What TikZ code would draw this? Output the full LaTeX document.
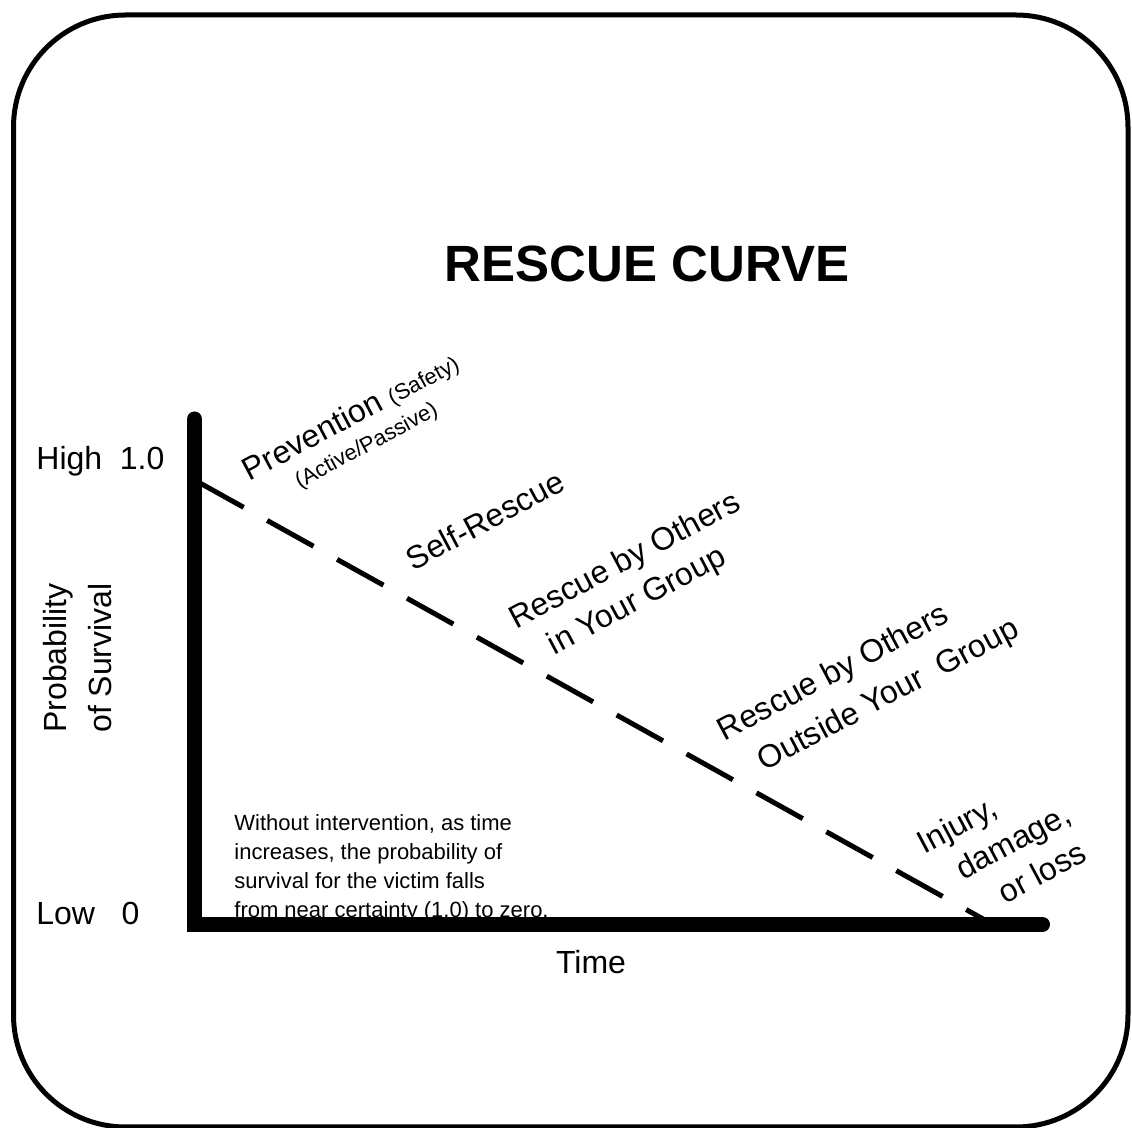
\documentclass[tikz,border=0pt]{standalone}
\usepackage{fontspec}
\setmainfont{Liberation Sans}

\begin{document}
\begin{tikzpicture}[x=0.5pt,y=-0.5pt,join=round, % rescue curve
        frame/.style={line width=2.5pt,rounded corners=56pt},
        axis/.style={line width=7.5pt,line cap=round,line join=miter},
        curve/.style={line width=2.5pt,dash pattern=on 26.5pt off 13.5pt,dash phase=38.4pt},
        lbl/.style={font=\fontsize{16}{21.5}\selectfont,inner sep=0pt},
        slant/.style={lbl,rotate=28}]
        \useasboundingbox (0,0) rectangle (1132,1128);
        \draw[frame] (13.5,15) rectangle (1128,1127);
        \node[font=\bfseries\fontsize{25.5}{30}\selectfont] (title) at (647,264) {RESCUE CURVE};
        \node[lbl,anchor=base west] (high) at (36,470) {High\ \ 1.0};
        \node[lbl,anchor=base west] (low) at (36,925) {Low\ \ \ 0};
        \node[lbl,rotate=90,align=center,font=\fontsize{16}{22.5}\selectfont] (prob) at (78,658) {Probability\\of Survival};
        \node[lbl] (time) at (591,962) {Time};
        \node[font=\fontsize{11}{14.6}\selectfont,align=left,anchor=north west,inner sep=0pt] (note) at (234,814)
                {Without intervention, as time\\increases, the probability of\\survival for the victim falls\\from near certainty (1.0) to zero.};
        \node[slant,align=center,font=\fontsize{16}{15}\selectfont] (prev) at (358,430)
                {Prevention {\fontsize{11}{13}\selectfont(Safety)}\\{\fontsize{11}{13}\selectfont(Active/Passive)}};
        \node[slant] (self) at (485,520) {Self-Rescue};
        \node[slant,align=left,font=\fontsize{16}{20.5}\selectfont] (inside) at (635,580)
                {Rescue by Others\\\hspace*{11pt}in Your Group};
        \node[slant,align=left,font=\fontsize{16}{22.5}\selectfont] (outside) at (869,681)
                {Rescue by Others\\\hspace*{10.5pt}Outside Your\ \ Group};
        \node[slant,align=left,font=\fontsize{16}{20.5}\selectfont] (loss) at (1003,846)
                {Injury,\\\hspace*{11pt}damage,\\\hspace*{24pt}or loss};
        \coordinate (ytop) at (194.5,419);
        \coordinate (orig) at (194.5,924.5);
        \coordinate (xend) at (1042.5,924.5);
        \coordinate (sure) at (194.5,480);
        \coordinate (zero) at (993,924.5);
        \draw[curve] (sure) -- (zero);
        \draw[axis] (ytop) -- (orig) -- (xend);
\end{tikzpicture}
\end{document}
